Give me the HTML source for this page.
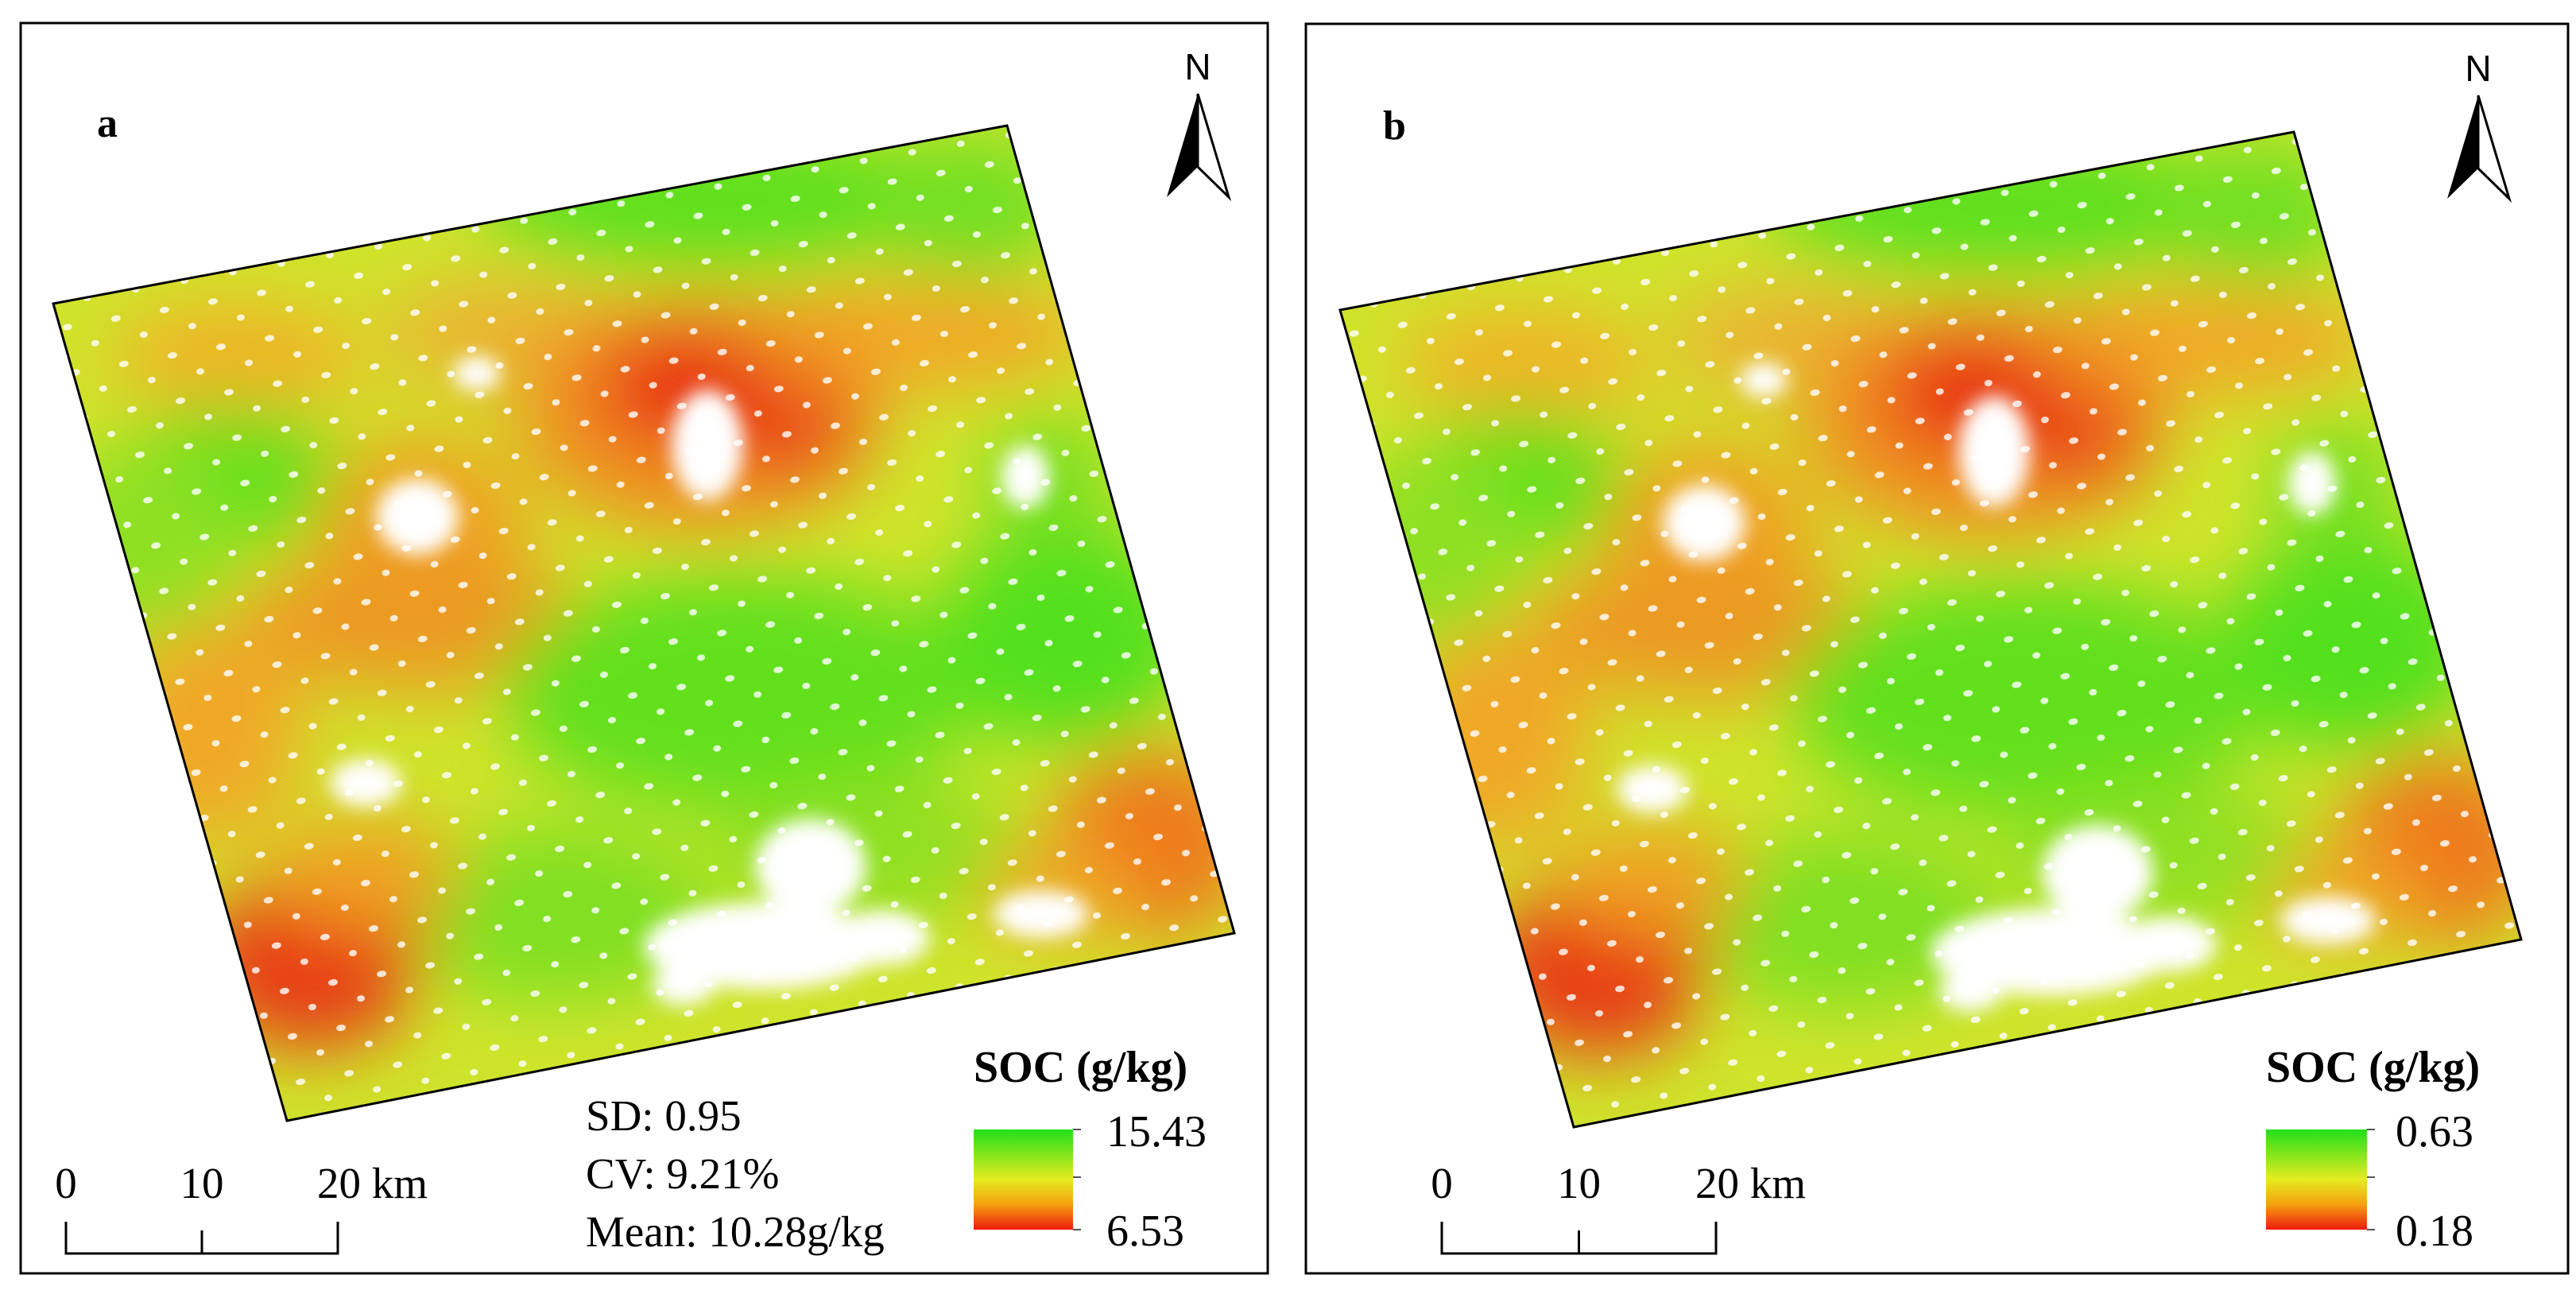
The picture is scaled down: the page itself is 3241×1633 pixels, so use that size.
<!DOCTYPE html>
<html><head><meta charset="utf-8"><style>
html,body{margin:0;padding:0;background:#fff}
svg{display:block}
text{font-family:"Liberation Serif",serif;fill:#000}
</style></head><body>
<svg id="fig" width="3241" height="1633" viewBox="0 0 3241 1633">
<defs>
<filter id="blur" x="-30%" y="-30%" width="160%" height="160%"><feGaussianBlur stdDeviation="45"/></filter>
<filter id="blur2" x="-30%" y="-30%" width="160%" height="160%"><feGaussianBlur stdDeviation="12"/></filter>
<linearGradient id="leg" x1="0" y1="0" x2="0" y2="1">
<stop offset="0" stop-color="#22e01a"/><stop offset="0.5" stop-color="#e6ec20"/><stop offset="0.75" stop-color="#f4a010"/><stop offset="1" stop-color="#ee1a0c"/>
</linearGradient>
<pattern id="dots" width="62" height="58" patternUnits="userSpaceOnUse" patternTransform="rotate(-10)">
<ellipse cx="12" cy="14" rx="6" ry="4" fill="#fff"/><ellipse cx="43" cy="40" rx="5" ry="4" fill="#fff"/>
</pattern>
<clipPath id="quadA"><polygon points="67,382 1267,158 1553,1174 361,1410"/></clipPath>
<g id="mapContent">
<rect x="0" y="100" width="1650" height="1400" fill="#cfe42c"/>
<g filter="url(#blur)">
<ellipse cx="900" cy="250" rx="300" ry="90" fill="#5ee01c"/>
<ellipse cx="1220" cy="260" rx="120" ry="90" fill="#70e020"/>
<ellipse cx="300" cy="450" rx="160" ry="70" fill="#f0b428"/>
<ellipse cx="640" cy="420" rx="160" ry="70" fill="#eab430"/>
<ellipse cx="1150" cy="420" rx="220" ry="70" fill="#f2a826"/>
<ellipse cx="880" cy="520" rx="230" ry="150" fill="#f09020"/>
<ellipse cx="860" cy="490" rx="110" ry="70" fill="#e82814"/>
<ellipse cx="990" cy="540" rx="80" ry="50" fill="#e83014"/>
<ellipse cx="290" cy="600" rx="140" ry="90" fill="#5ee01c"/>
<ellipse cx="180" cy="680" rx="120" ry="120" fill="#8ee024"/>
<ellipse cx="530" cy="660" rx="130" ry="110" fill="#f0a024"/>
<ellipse cx="520" cy="780" rx="220" ry="90" fill="#ec9a22"/>
<ellipse cx="260" cy="920" rx="120" ry="140" fill="#f0a826"/>
<ellipse cx="930" cy="870" rx="300" ry="150" fill="#62e01c"/>
<ellipse cx="1340" cy="800" rx="160" ry="140" fill="#52e01a"/>
<ellipse cx="1320" cy="600" rx="80" ry="80" fill="#78e020"/>
<ellipse cx="700" cy="1150" rx="200" ry="110" fill="#80e024"/>
<ellipse cx="1100" cy="1070" rx="200" ry="90" fill="#90e024"/>
<ellipse cx="390" cy="1210" rx="140" ry="110" fill="#e83a14"/>
<ellipse cx="460" cy="1100" rx="120" ry="70" fill="#f0a024"/>
<ellipse cx="1450" cy="1060" rx="130" ry="120" fill="#ee7a1c"/>
<ellipse cx="1330" cy="1120" rx="100" ry="60" fill="#f0a826"/>
</g>
<rect x="0" y="100" width="1650" height="1400" fill="url(#dots)" opacity="0.8"/>
<g filter="url(#blur2)" fill="#fff">
<ellipse cx="525" cy="650" rx="52" ry="48"/>
<ellipse cx="890" cy="560" rx="45" ry="70"/>
<ellipse cx="460" cy="985" rx="45" ry="30"/>
<ellipse cx="960" cy="1190" rx="150" ry="55"/>
<ellipse cx="1020" cy="1090" rx="70" ry="60"/>
<ellipse cx="1110" cy="1180" rx="60" ry="35"/>
<ellipse cx="860" cy="1240" rx="40" ry="25"/>
<ellipse cx="1310" cy="1150" rx="60" ry="30"/>
<ellipse cx="600" cy="470" rx="30" ry="22"/>
<ellipse cx="1290" cy="600" rx="30" ry="40"/>
</g>
</g>
</defs>

<g>
<rect x="26" y="29" width="1569" height="1573" fill="none" stroke="#000" stroke-width="3"/>
<text x="122" y="172" font-size="52" font-weight="bold">a</text>
<g clip-path="url(#quadA)"><use href="#mapContent"/></g>
<polygon points="67,382 1267,158 1553,1174 361,1410" fill="none" stroke="#000" stroke-width="3"/>
<g>
<text x="1507" y="100" font-size="46" text-anchor="middle" style="font-family:'Liberation Sans',sans-serif">N</text>
<polygon points="1507,118 1468,248 1507,210" fill="#000"/>
<polygon points="1507,118 1546,248 1507,210" fill="#fff" stroke="#000" stroke-width="3"/>
</g>
<g id="statsA" font-size="55"></g>
<g id="legA"></g>
<g id="scaleA"></g>
</g>

<g>
<rect x="1643" y="30" width="1588" height="1572" fill="none" stroke="#000" stroke-width="3"/>
<text x="1740" y="175" font-size="52" font-weight="bold">b</text>
<g>
<clipPath id="quadB"><polygon points="67,382 1267,158 1553,1174 361,1410"/></clipPath>
<g transform="translate(1619,8)"><g clip-path="url(#quadB)"><use href="#mapContent"/></g>
<polygon points="67,382 1267,158 1553,1174 361,1410" fill="none" stroke="#000" stroke-width="3"/></g>
</g>
<g>
<text x="3118" y="102" font-size="46" text-anchor="middle" style="font-family:'Liberation Sans',sans-serif">N</text>
<polygon points="3118,120 3079,250 3118,212" fill="#000"/>
<polygon points="3118,120 3157,250 3118,212" fill="#fff" stroke="#000" stroke-width="3"/>
</g>
<g id="legB"></g>
<g id="scaleB"></g>
</g>
</svg>
<script>
const statsLines = ["SD: 0.95", "CV: 9.21%", "Mean: 10.28g/kg"];
const legendA = ["15.43", "6.53"];
const legendB = ["0.63", "0.18"];
const scaleTicks = ["0", "10", "20 km"];
const NS = "http://www.w3.org/2000/svg";
function mk(tag, attrs, parent, txt){const e=document.createElementNS(NS,tag);for(const k in attrs)e.setAttribute(k,attrs[k]);if(txt!==undefined)e.textContent=txt;parent.appendChild(e);return e;}
const sA=document.getElementById('statsA');
statsLines.forEach((s,i)=>{const t=mk('text',{x:737,y:1422+i*73},sA,s);

});
function legend(g,x,y,w,labels,lx){
 const tt=mk('text',{x:x,y:y-60,'font-size':56,'font-weight':'bold'},g,'SOC (g/kg)');
 
 
 const r=mk('rect',{x:x,y:y,width:w,height:126,fill:'url(#leg)'},g);
 
 
 [0,60,126].forEach(d=>mk('line',{x1:x+w,x2:x+w+10,y1:y+d,y2:y+d,stroke:'#555','stroke-width':2},g));
 labels.forEach((l,i)=>{const t=mk('text',{x:lx,y:y+21+i*125,'font-size':56},g,l);
 
 });
}
legend(document.getElementById('legA'),1225,1421,125,legendA,1392);
legend(document.getElementById('legB'),2851,1421,127,legendB,3014);
function scale(g,x0,x1,y){
 mk('polyline',{points:`${x0},${y-40} ${x0},${y} ${x1},${y} ${x1},${y-40}`,fill:'none',stroke:'#000','stroke-width':3},g);
 const xm=(x0+x1)/2;
 mk('line',{x1:xm,x2:xm,y1:y,y2:y-29,stroke:'#000','stroke-width':3},g);
 scaleTicks.forEach((s,i)=>{const xx=x0+(x1-x0)*i/2;
 const t=mk('text',{x:i<2?xx:xx-26,y:y-70,'font-size':55,'text-anchor':i<2?'middle':'start'},g,s);
 
 });
}
scale(document.getElementById('scaleA'),83,425,1577);
scale(document.getElementById('scaleB'),1814,2159,1577);
</script>
</body></html>
